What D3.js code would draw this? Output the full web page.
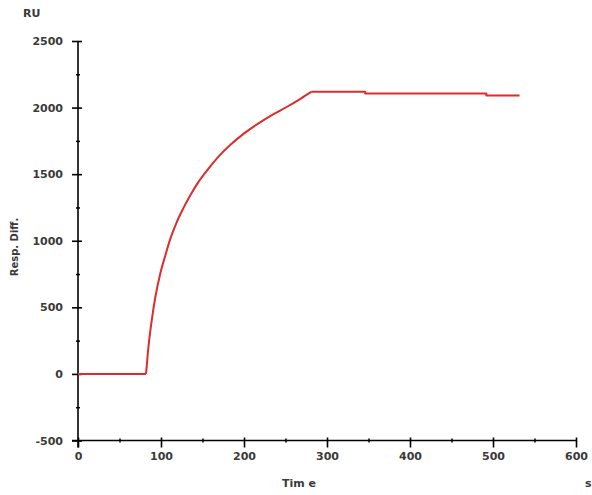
<!DOCTYPE html>
<html>
<head>
<meta charset="utf-8">
<script src="https://cdn.jsdelivr.net/npm/d3@7"></script>
<style>
  body { margin: 0; background: #fff; }
  svg text { font-family: "DejaVu Sans", sans-serif; font-weight: bold; fill: #3a3a3a; }
</style>
</head>
<body>
<script>
// sensorgram (time in s, response in RU)
const baselineTime = [0, 82];
const baselineResp = [0, 0];
const assocTime = [82, 85, 89, 93, 99, 105, 111, 119, 127, 135, 145, 157, 169, 185, 201, 217, 233, 253, 268, 281];
const assocResp = [0, 210, 410, 570, 750, 885, 1010, 1140, 1245, 1338, 1440, 1540, 1630, 1728, 1810, 1880, 1942, 2010, 2066, 2118];
const dissocTime = [281, 346, 346, 492, 492, 532];
const dissocResp = [2118, 2118, 2105, 2105, 2090, 2090];

const xTicks = [0, 100, 200, 300, 400, 500, 600];
const yTicks = [-500, 0, 500, 1000, 1500, 2000, 2500];

function drawChart() {
  const width = 592;
  const height = 495;

  const x = d3.scaleLinear().domain([0, 600]).range([78, 576]);
  const y = d3.scaleLinear().domain([-500, 2500]).range([440.5, 41]);

  const svg = d3.select('body')
        .append('svg')
        .attr('width', width)
        .attr('height', height);

  // minor ticks
  svg.append('g')
    .attr('transform', `translate(0,${y(-500)})`)
    .call(d3.axisBottom(x).tickValues(d3.range(50, 600, 100)).tickSize(2).tickFormat(''))
    .call(g => g.select('.domain').remove())
    .call(g => g.selectAll('.tick line').attr('y1', -2).attr('stroke-width', 1.5));
  svg.append('g')
    .attr('transform', `translate(${x(0)},0)`)
    .call(d3.axisLeft(y).tickValues(d3.range(-250, 2500, 500)).tickSize(2).tickFormat(''))
    .call(g => g.select('.domain').remove())
    .call(g => g.selectAll('.tick line').attr('x1', 2).attr('stroke-width', 1.5));

  // major axes
  svg.append('g')
    .attr('transform', `translate(0,${y(-500)})`)
    .call(d3.axisBottom(x).tickValues(xTicks).tickFormat(d => String(d))
      .tickSize(7).tickPadding(5).tickSizeOuter(0))
    .call(g => g.select('.domain').attr('stroke-width', 1.6).attr('d', `M${x(0) - 6},0H${x(600)}`))
    .call(g => g.selectAll('.tick line').attr('y1', -3).attr('stroke-width', 1.6))
    .call(g => g.selectAll('.tick text').attr('font-size', 11).attr('font-family', null));

  svg.append('g')
    .attr('transform', `translate(${x(0)},0)`)
    .call(d3.axisLeft(y).tickValues(yTicks).tickFormat(d => String(d))
      .tickSize(6).tickPadding(9).tickSizeOuter(0))
    .call(g => g.select('.domain').attr('stroke-width', 1.6).attr('d', `M0,${y(2500)}V${y(-500) + 7}`))
    .call(g => g.selectAll('.tick line').attr('x1', 4).attr('stroke-width', 1.6))
    .call(g => g.selectAll('.tick text').attr('font-size', 11).attr('font-family', null));

  // titles
  svg.append('text').attr('x', 23).attr('y', 17).attr('font-size', 11).text('RU');
  svg.append('text').attr('x', 282).attr('y', 487).attr('font-size', 11).text('Tim e');
  svg.append('text').attr('x', 585).attr('y', 487).attr('font-size', 11).text('s');
  svg.append('text')
    .attr('transform', 'translate(18,247) rotate(-90)')
    .attr('text-anchor', 'middle')
    .attr('font-size', 10)
    .text('Resp. Diff.');

  const linear = d3.line().x(d => x(d[0])).y(d => y(d[1]));
  const smooth = d3.line().x(d => x(d[0])).y(d => y(d[1])).curve(d3.curveMonotoneX);

  const series = [
    [d3.zip(baselineTime, baselineResp), linear],
    [d3.zip(assocTime, assocResp), smooth],
    [d3.zip(dissocTime, dissocResp), linear]
  ];
  series.forEach(s => {
    svg.append('path')
      .attr('d', s[1](s[0]))
      .attr('fill', 'none')
      .attr('stroke', '#de2b2b')
      .attr('stroke-width', 2)
      .attr('stroke-linejoin', 'round');
  });
}

window.onload = drawChart;
</script>
</body>
</html>
